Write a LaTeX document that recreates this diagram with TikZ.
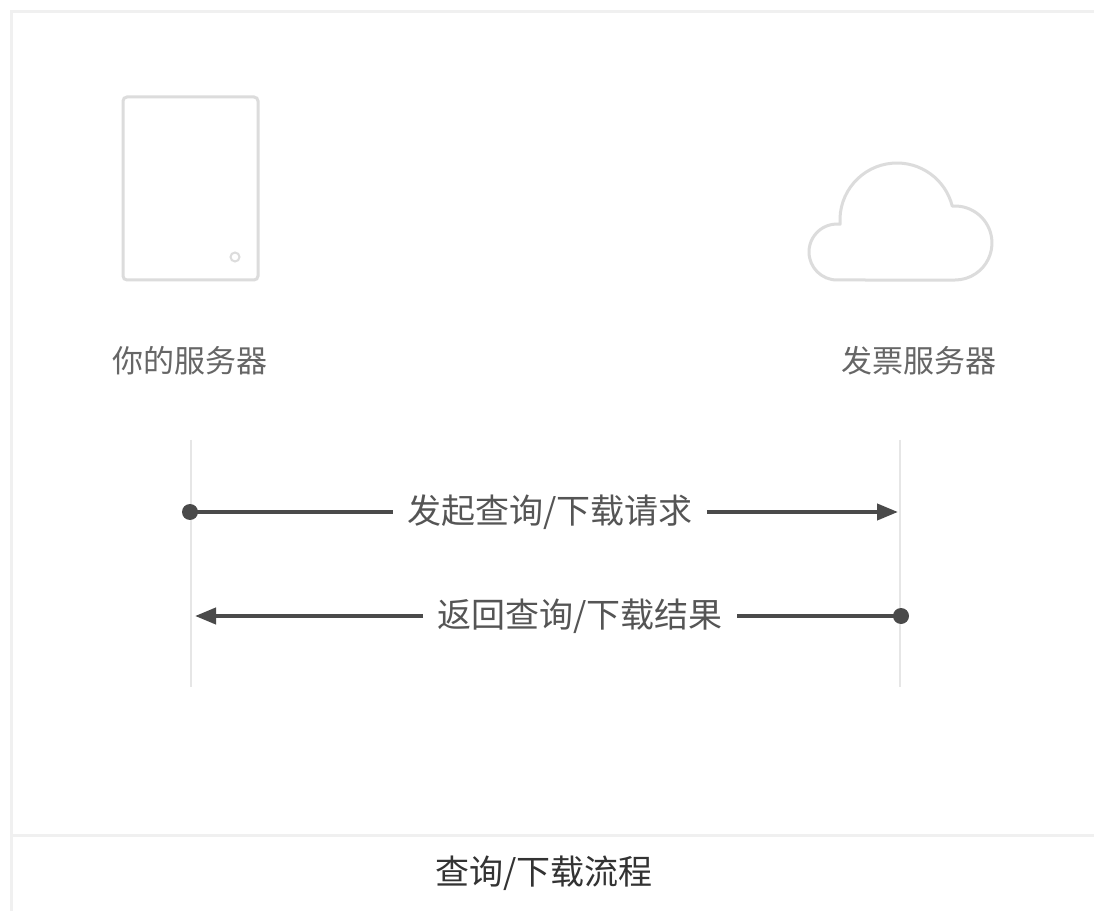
\documentclass[tikz,border=0pt]{standalone}
\usepackage{fontspec}
\setmainfont{Noto Sans CJK SC}
\usetikzlibrary{arrows.meta}
\definecolor{framec}{HTML}{F0F0F0}
\definecolor{iconc}{HTML}{DCDCDC}
\definecolor{lifec}{HTML}{E6E6E6}
\definecolor{arrowc}{HTML}{4A4A4A}
\definecolor{namec}{HTML}{666666}
\definecolor{labelc}{HTML}{555555}
\definecolor{titlec}{HTML}{333333}
\tikzset{
  framestyle/.style={draw=framec, line width=3pt},
  iconstyle/.style={draw=iconc, line width=3pt},
  lifeline/.style={draw=lifec, line width=2pt},
  msgline/.style={draw=arrowc, line width=4pt},
  msgarrow/.style={msgline, -{Triangle[length=21pt,width=16pt]}},
  dotnode/.style={circle, fill=arrowc, inner sep=0pt, minimum size=16pt},
  namelabel/.style={text=namec, font=\fontsize{31pt}{31pt}\selectfont, inner sep=0pt},
  msglabel/.style={text=labelc, font=\fontsize{34pt}{34pt}\selectfont, inner xsep=14pt, inner ysep=0pt},
  titlelabel/.style={text=titlec, font=\fontsize{34pt}{34pt}\selectfont, inner sep=0pt}
}
\begin{document}
\begin{tikzpicture}[x=1pt,y=1pt]
\useasboundingbox (0,0) rectangle (1094,911);
\fill[white] (0,0) rectangle (1094,911);
% frame
\coordinate (ftl) at (11,899);
\coordinate (ftr) at (1094,899);
\coordinate (fbl) at (11,0);
\coordinate (fsl) at (11,76);
\coordinate (fsr) at (1094,76);
\draw[framestyle] (ftr) -- (ftl) -- (fbl);
\draw[framestyle] (fsl) -- (fsr);
% your server icon
\draw[iconstyle, rounded corners=4pt] (123,631) rectangle (258,814);
\draw[draw=iconc, line width=2pt] (235,654) circle[radius=4.5pt];
% cloud icon
\draw[iconstyle, line join=round] (837,631)
  arc[start angle=270, end angle=83.6, radius=28pt]
  arc[start angle=184.2, end angle=14.1, radius=57pt]
  arc[start angle=94.2, end angle=-90, radius=37pt]
  -- cycle;
% names
\node[namelabel] (mine) at (190,550) {你的服务器};
\node[namelabel] (inv) at (919,550) {发票服务器};
% lifelines
\coordinate (l1top) at (191,471);
\coordinate (l1bot) at (191,224);
\coordinate (l2top) at (900,471);
\coordinate (l2bot) at (900,224);
\draw[lifeline] (l1top) -- (l1bot);
\draw[lifeline] (l2top) -- (l2bot);
% message 1
\node[dotnode] (d1) at (190,399) {};
\coordinate (t1) at (898,399);
\node[msglabel] (m1) at (550,399) {发起查询/下载请求};
\draw[msgline] (d1.center) -- (d1 -| m1.west);
\draw[msgarrow] (d1 -| m1.east) -- (t1);
% message 2
\node[dotnode] (d2) at (901,295) {};
\coordinate (t2) at (195,295);
\node[msglabel] (m2) at (580,295) {返回查询/下载结果};
\draw[msgline] (d2.center) -- (d2 -| m2.east);
\draw[msgarrow] (d2 -| m2.west) -- (t2);
% title
\node[titlelabel] (title) at (544,38) {查询/下载流程};
\end{tikzpicture}
\end{document}
